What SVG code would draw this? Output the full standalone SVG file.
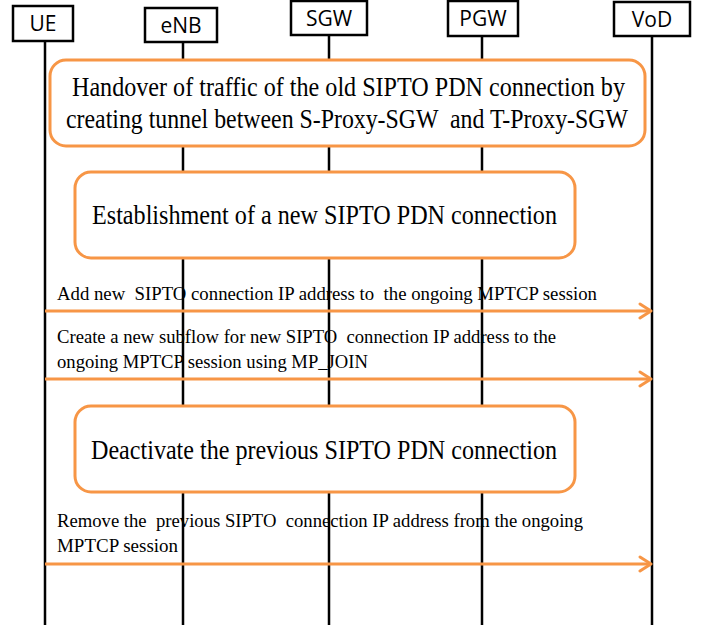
<svg xmlns="http://www.w3.org/2000/svg" width="712" height="625" viewBox="0 0 712 625">
<defs>
<marker id="arr" markerWidth="16" markerHeight="18" refX="13" refY="9" orient="auto" markerUnits="userSpaceOnUse">
<polyline points="2,2 13,9 2,16" fill="none" stroke="#F79646" stroke-width="3" stroke-linecap="round" stroke-linejoin="round"/>
</marker>
</defs>
<style>
.hdr{fill:#fff;stroke:#000;stroke-width:2.5}
.htxt{font-family:"Open Sans","Noto Sans",sans-serif;font-size:21px;fill:#000;text-anchor:middle}
.life{stroke:#000;stroke-width:2.5}
.step{fill:#fff;stroke:#F79646;stroke-width:3}
.stxt{font-family:"Liberation Serif","Times New Roman",serif;font-size:27px;fill:#000}
.msg{stroke:#F79646;stroke-width:3;fill:none}
.mtxt{font-family:"Liberation Serif","Times New Roman",serif;font-size:19px;fill:#000;white-space:pre}
</style>
<g id="lifelines">
<line class="life" x1="45" y1="41" x2="45" y2="625"/>
<line class="life" x1="183" y1="42" x2="183" y2="625"/>
<line class="life" x1="329" y1="35" x2="329" y2="625"/>
<line class="life" x1="482" y1="35" x2="482" y2="625"/>
<line class="life" x1="652" y1="36" x2="652" y2="625"/>
</g>
<g id="ue"><rect class="hdr" x="13" y="6" width="60" height="35"/><text class="htxt" x="43" y="31">UE</text></g>
<g id="enb"><rect class="hdr" x="145" y="8" width="72" height="34"/><text class="htxt" x="181" y="33">eNB</text></g>
<g id="sgw"><rect class="hdr" x="291" y="1" width="76" height="34"/><text class="htxt" x="329" y="26">SGW</text></g>
<g id="pgw"><rect class="hdr" x="448" y="1" width="70" height="35"/><text class="htxt" x="483" y="26">PGW</text></g>
<g id="vod"><rect class="hdr" x="614" y="2" width="76" height="34"/><text class="htxt" x="652" y="27">VoD</text></g>
<g id="step1">
<rect class="step" x="50" y="60" width="595" height="86" rx="16"/>
<text class="stxt" x="72" y="96" textLength="553" lengthAdjust="spacingAndGlyphs">Handover of traffic of the old SIPTO PDN connection by</text>
<text class="stxt" x="66" y="128" textLength="562" lengthAdjust="spacingAndGlyphs" xml:space="preserve">creating tunnel between S-Proxy-SGW  and T-Proxy-SGW</text>
</g>
<g id="step2">
<rect class="step" x="75" y="172" width="500" height="86" rx="16"/>
<text class="stxt" x="92" y="224" textLength="465" lengthAdjust="spacingAndGlyphs">Establishment of a new SIPTO PDN connection</text>
</g>
<g id="step3">
<rect class="step" x="75" y="406" width="500" height="86" rx="16"/>
<text class="stxt" x="91" y="459" textLength="466" lengthAdjust="spacingAndGlyphs">Deactivate the previous SIPTO PDN connection</text>
</g>
<g id="connectors">
<line class="msg" x1="45" y1="311" x2="651" y2="311" marker-end="url(#arr)"/>
<line class="msg" x1="45" y1="379" x2="651" y2="379" marker-end="url(#arr)"/>
<line class="msg" x1="45" y1="564" x2="651" y2="564" marker-end="url(#arr)"/>
</g>
<g id="labels">
<text class="mtxt" x="57" y="300" textLength="540" lengthAdjust="spacingAndGlyphs" xml:space="preserve">Add new  SIPTO connection IP address to  the ongoing MPTCP session</text>
<text class="mtxt" x="57" y="343" textLength="499" lengthAdjust="spacingAndGlyphs" xml:space="preserve">Create a new subflow for new SIPTO  connection IP address to the</text>
<text class="mtxt" x="57" y="368" textLength="311" lengthAdjust="spacingAndGlyphs">ongoing MPTCP session using MP_JOIN</text>
<text class="mtxt" x="57" y="527" textLength="526" lengthAdjust="spacingAndGlyphs" xml:space="preserve">Remove the  previous SIPTO  connection IP address from the ongoing</text>
<text class="mtxt" x="57" y="552" textLength="121" lengthAdjust="spacingAndGlyphs">MPTCP session</text>
</g>
</svg>
